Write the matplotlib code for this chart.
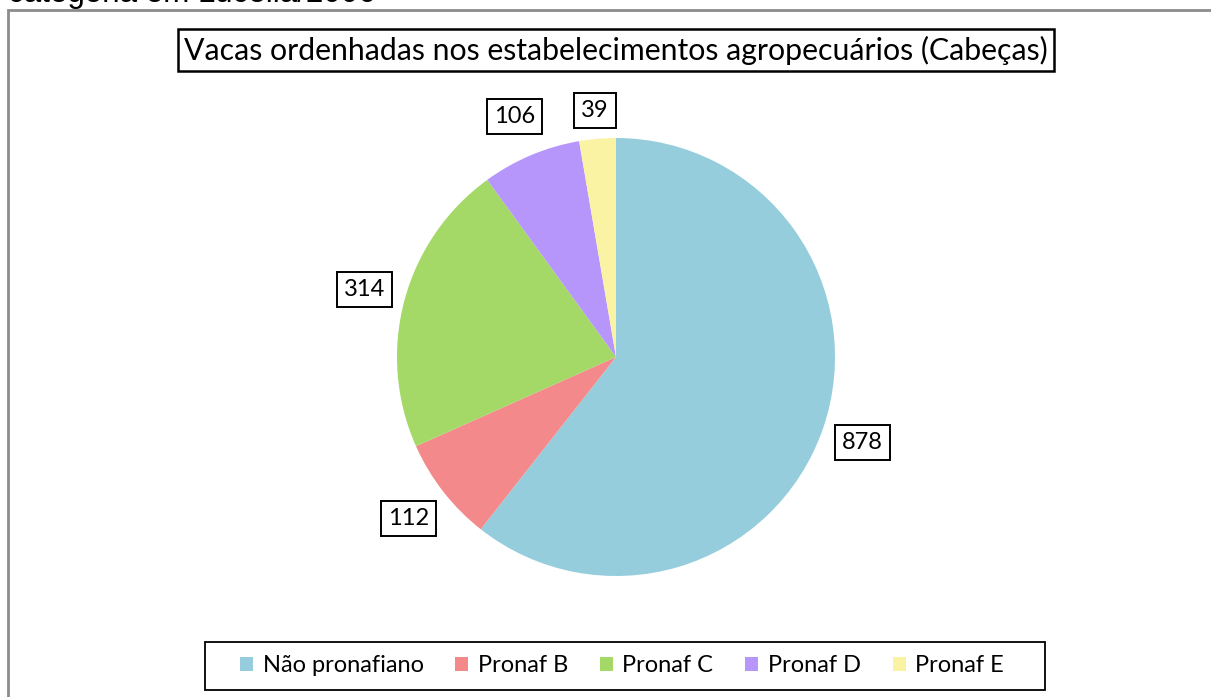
import matplotlib
matplotlib.use("Agg")
import matplotlib.pyplot as plt
from matplotlib.patches import Rectangle

categories = ["Não pronafiano", "Pronaf B", "Pronaf C", "Pronaf D", "Pronaf E"]
values = [878, 112, 314, 106, 39]
colors = ["#96CDDC", "#F4898B", "#A4D968", "#B796FB", "#FBF3A4"]
title = "Vacas ordenhadas nos estabelecimentos agropecuários (Cabeças)"
top_text = "categoria em Lucélia/2006"

W, H = 1211, 697
fig = plt.figure(figsize=(W / 100, H / 100), dpi=100)
fig.patch.set_facecolor("white")

def fx(x): return x / W
def fy(y): return 1 - y / H

# outer chart border
fig.patches.append(Rectangle((fx(8), fy(720)), fx(1260) - fx(8), fy(10) - fy(720),
                             transform=fig.transFigure, fill=False,
                             edgecolor="#8c8c8c", linewidth=2, clip_on=False))

fig.text(fx(8), fy(2), top_text, ha="left", va="baseline",
         fontsize=22.5, family="Liberation Sans", color="black")

cx, cy, r = 616, 357, 219
ax = fig.add_axes([fx(cx - r), fy(cy + r), 2 * r / W, 2 * r / H])
wedges, texts = ax.pie(values, colors=colors, startangle=90, counterclock=False,
                       labels=[str(v) for v in values], labeldistance=1.19,
                       wedgeprops=dict(linewidth=0))
label_scale = [1.0, 1.01, 1.0, 1.0, 0.95]
for t, s in zip(texts, label_scale):
    x, y = t.get_position()
    t.set_position((x * s, y * s))
    t.set_ha("center")
    t.set_va("center")
    t.set_fontsize(17)
    t.set_family("Lato")
    t.set_bbox(dict(boxstyle="square,pad=0.3", facecolor="white",
                    edgecolor="black", linewidth=1.4))
ax.set_xlim(-1, 1)
ax.set_ylim(-1, 1)
ax.set_aspect("equal")
ax.axis("off")

fig.text(fx(616), fy(50), title, ha="center", va="center", fontsize=21.8,
         family="Lato", color="black",
         bbox=dict(boxstyle="square,pad=0.2", facecolor="white",
                   edgecolor="black", linewidth=1.8))

# legend frame
fig.patches.append(Rectangle((fx(205), fy(690)), fx(1045) - fx(205), fy(642) - fy(690),
                             transform=fig.transFigure, facecolor="white",
                             edgecolor="black", linewidth=1.3, zorder=0))
leg = fig.legend(wedges, categories, loc="center", bbox_to_anchor=(fx(622), fy(666)),
                 ncol=5, frameon=False, handlelength=0.55,
                 handleheight=0.55, handletextpad=0.4, columnspacing=1.35,
                 prop=dict(family="Lato", size=17), borderpad=0.3)

fig.savefig("out.png", dpi=100)
